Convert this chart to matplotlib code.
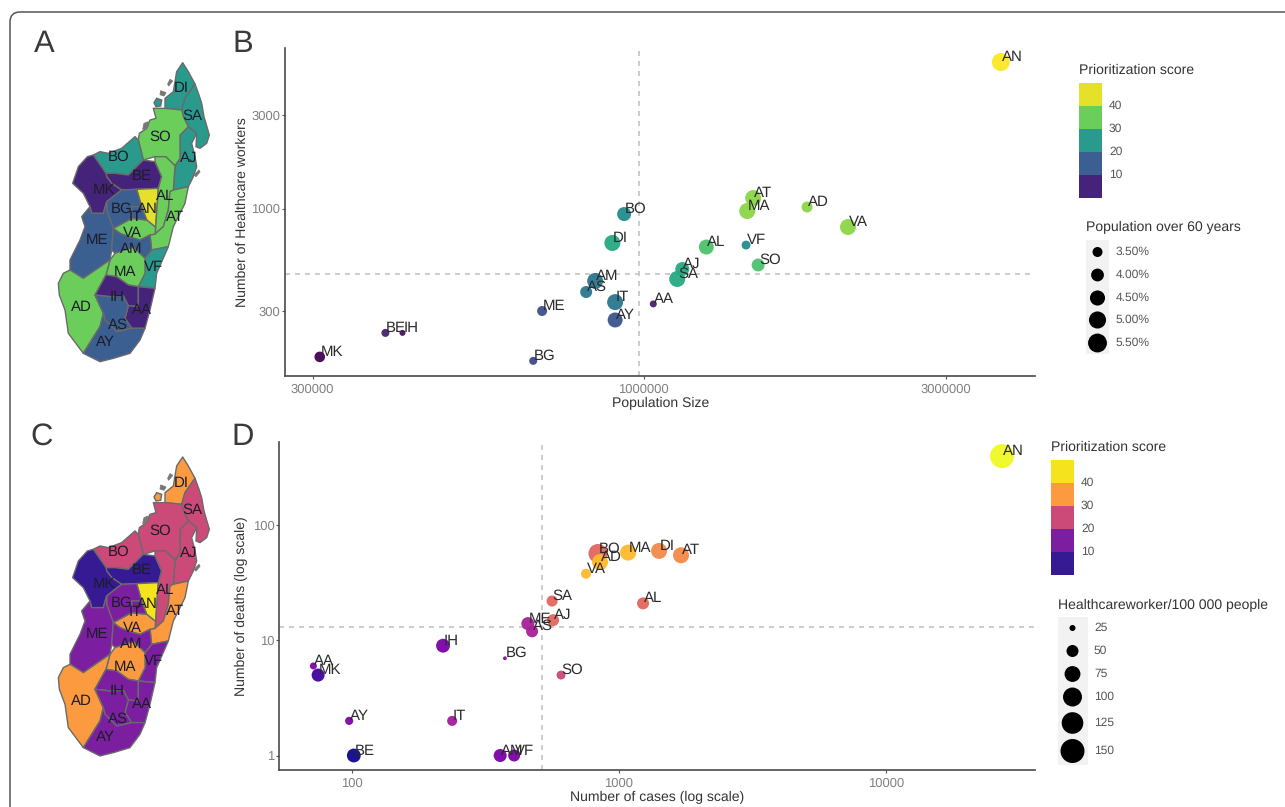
import matplotlib
matplotlib.use("Agg")
import matplotlib.pyplot as plt
import numpy as np
from matplotlib.patches import Polygon, Rectangle, FancyBboxPatch
from matplotlib.ticker import FixedLocator, FixedFormatter, NullLocator

plt.rcParams['font.family'] = ['Liberation Sans', 'DejaVu Sans']
plt.rcParams['text.hinting'] = 'no_hinting'
plt.rcParams['text.hinting_factor'] = 1

W, H = 1285, 807

# ---- panel B data
codes_b = ['AN','AT','MA','AD','VA','BO','DI','AL','VF','SO','AJ','SA','AM','AS','IT','AA','ME','AY','BG','BE','IH','MK']
pop_size = [3660000,1488000,1456000,1810000,2100000,931000,892000,1255000,1450000,1515000,1150000,1129000,838000,811000,901000,1035000,691000,901000,669000,391000,416000,308000]
hcw_count = [5589,1131,971,1018,805,937,667,636,651,515,491,437,427,375,333,326,300,270,167,232,232,175]
over60_pct = [5.25,4.72,4.72,3.66,4.72,4.25,4.72,4.47,3.34,4.03,4.25,4.72,4.72,3.84,4.72,3.1,3.5,4.47,3.22,3.22,3.0,3.6]
score_b = [48,40,40,40,40,24,30,35,24,35,30,30,20,20,20,6,13,14,12,6,4,2]
median_pop = 982000
median_hcw = 463

# ---- panel D data
codes_d = ['AN','BO','AD','VA','MA','DI','AT','SA','AL','AJ','ME','AS','IH','BG','AA','MK','SO','AY','IT','BE','AM','VF']
cases = [27170,836,851,754,1084,1415,1710,563,1233,568,457,474,220,375,72,75,608,98,238,102,360,406]
deaths = [400,57,48,38,58,60,55,22,21,15,14,12,9,7,6,5,5,2,2,1,1,1]
hcw_rate = [150,100,76,40,76,76,76,45,50,50,56,50,61,20,28,56,35,32,40,61,56,50]
score_d = [48,30,41,41,41,35,35,30,30,30,19,19,13,15,14,7,25,14,18,2,13,13]
median_cases = 516
median_deaths = 13

# ---- legends
bin_labels = ['40','30','20','10']
viridis_bins = ['#e5e029','#6cce5a','#2a9a8c','#3b5f90','#46237a']
plasma_bins = ['#f5e31e','#fb9a3e','#cc4a78','#7b1fa0','#361a93']
over60_breaks = [3.5,4.0,4.5,5.0,5.5]
over60_labels = ['3.50%','4.00%','4.50%','5.00%','5.50%']
rate_breaks = [25,50,75,100,125,150]

# ---- map data: region -> class (0 lowest .. 4 highest) and shape
class_a = dict(AN=4,SO=3,AL=3,AT=3,VA=3,MA=3,AD=3,DI=2,SA=2,AJ=2,BO=2,VF=2,BG=1,IT=1,ME=1,AM=1,AS=1,AY=1,MK=0,BE=0,IH=0,AA=0)
class_c = dict(AN=4,DI=3,VA=3,MA=3,AD=3,AT=3,SO=2,SA=2,AJ=2,BO=2,AL=2,BG=1,IT=1,ME=1,AM=1,VF=1,IH=1,AS=1,AA=1,AY=1,MK=0,BE=0)
shapes = {
 'DI':[(548,128),(565,155),(585,192),(555,235),(545,270),(495,265),(495,235),(520,215),(530,155)],
 'SA':[(585,192),(597,225),(605,250),(612,290),(628,345),(620,370),(600,385),(588,380),(590,340),(565,320),(550,290),(545,270),(555,235)],
 'AJ':[(565,320),(590,340),(575,370),(585,410),(590,440),(580,470),(565,500),(520,510),(525,440),(540,415),(540,345)],
 'SO':[(495,265),(545,270),(550,290),(565,320),(540,345),(540,415),(525,437),(497,410),(465,410),(430,420),(415,360),(418,340),(440,325),(450,300),(468,295),(460,265)],
 'BO':[(280,405),(300,395),(325,400),(365,385),(405,350),(415,360),(430,420),(415,435),(385,465),(345,460),(318,460)],
 'BE':[(318,460),(345,460),(385,465),(415,435),(430,420),(465,425),(485,470),(475,505),(410,508),(365,510),(335,490),(320,470)],
 'MK':[(262,410),(280,405),(318,460),(320,470),(335,490),(365,510),(320,545),(310,580),(275,580),(270,560),(250,520),(218,490),(235,440)],
 'AN':[(410,508),(475,505),(467,622),(440,600),(425,560)],
 'AL':[(465,410),(497,410),(525,437),(520,510),(510,515),(505,570),(490,620),(465,642),(467,622),(475,505),(485,470),(465,425)],
 'AT':[(520,510),(565,500),(555,550),(520,620),(505,680),(455,690),(450,645),(465,642),(490,620),(505,570),(510,515)],
 'VF':[(455,690),(505,680),(470,760),(465,805),(415,800),(435,760),(435,715)],
 'VA':[(340,625),(395,595),(440,600),(467,622),(465,642),(450,645),(420,660),(385,650),(360,640)],
 'BG':[(320,545),(365,510),(410,508),(425,560),(395,560),(395,595),(340,625),(320,570)],
 'IT':[(395,560),(425,560),(440,600),(395,595)],
 'ME':[(275,580),(310,580),(320,545),(320,570),(340,625),(335,690),(330,720),(250,775),(210,750),(210,720),(240,660),(255,620),(245,590),(270,560)],
 'AM':[(340,625),(360,640),(385,650),(420,660),(450,645),(455,690),(435,715),(400,682),(345,700),(335,690)],
 'MA':[(345,700),(400,682),(435,715),(435,760),(415,800),(385,795),(350,770),(318,765),(330,720)],
 'AD':[(175,790),(190,760),(210,750),(250,775),(330,720),(318,765),(285,825),(310,880),(300,920),(250,1000),(205,940),(195,870),(178,825)],
 'IH':[(318,765),(350,770),(385,795),(415,800),(415,860),(385,857),(370,828),(330,830),(285,825)],
 'AA':[(415,800),(465,805),(450,870),(435,925),(395,925),(375,895),(385,857),(415,860)],
 'AS':[(330,830),(370,828),(385,857),(375,895),(395,925),(350,935),(315,900),(310,880),(285,825)],
 'AY':[(300,920),(310,880),(315,900),(350,935),(395,925),(435,925),(420,960),(390,1000),(340,1015),(300,1025),(250,1000)],
}
di_lobe = [(470,235),(485,240),(482,258),(468,260),(462,248)]
islets = [[(510,178),(518,183),(506,198),(503,192)],[(482,212),(498,218),(492,228),(480,224)],
          [(432,310),(445,305),(440,325),(428,328)],[(582,465),(597,450),(600,456),(588,470)]]
map_labels = dict(DI=(543,205),SA=(578,288),SO=(480,350),AJ=(565,415),BO=(355,412),BE=(425,468),MK=(312,510),
                  AL=(495,528),AN=(442,568),BG=(365,567),IT=(405,592),AT=(525,590),VA=(398,640),ME=(292,660),
                  AM=(395,688),VF=(460,740),MA=(375,757),IH=(352,830),AA=(427,870),AD=(245,860),AS=(355,915),AY=(316,967))

fig = plt.figure(figsize=(W/100, H/100), dpi=100, facecolor='white')

def px_axes(l, t, r, b):
    return fig.add_axes([l/W, 1-b/H, (r-l)/W, (b-t)/H])

def r2_over60(p):
    return 25+(np.asarray(p, float)-3.5)*32

def r2_rate(v):
    return 9+(np.asarray(v, float)-25)*1.08

def s_from_r2(r2):
    return 4*np.asarray(r2)*0.72**2

def draw_map(ax, classes, palette):
    ax.set_xlim(0,720); ax.set_ylim(1080,0); ax.axis('off')
    for name, pts in shapes.items():
        ax.add_patch(Polygon(pts, closed=True, fc=palette[4-classes[name]], ec='#6a6a6a', lw=1.0, joinstyle='round'))
    ax.add_patch(Polygon(di_lobe, closed=True, fc=palette[4-classes['DI']], ec='#6a6a6a', lw=1.0))
    for pts in islets:
        ax.add_patch(Polygon(pts, closed=True, fc='#777777', ec='#777777', lw=0.6))
    for name,(x,y) in map_labels.items():
        ax.text(x, y, name, ha='center', va='center', fontsize=10.8, color='#1c1c2a')

def style_scatter(ax, xl, yl, xticks, yticks, xlab, ylab, xlab_pos, ylab_pos):
    ax.set_xscale('log'); ax.set_yscale('log')
    ax.set_xlim(*xl); ax.set_ylim(*yl)
    ax.xaxis.set_major_locator(FixedLocator(xticks))
    ax.xaxis.set_major_formatter(FixedFormatter([str(t) for t in xticks]))
    ax.yaxis.set_major_locator(FixedLocator(yticks))
    ax.yaxis.set_major_formatter(FixedFormatter([str(t) for t in yticks]))
    ax.xaxis.set_minor_locator(NullLocator()); ax.yaxis.set_minor_locator(NullLocator())
    for s in ['top','right']:
        ax.spines[s].set_visible(False)
    for s in ['left','bottom']:
        ax.spines[s].set_color('#4a4a4a'); ax.spines[s].set_linewidth(1.2)
    ax.tick_params(axis='both', length=2.2, width=0.8, color='#555555', labelsize=9.4, labelcolor='#808080')
    ax.tick_params(axis='y', pad=1)
    ax.tick_params(axis='x', pad=3)
    ax.set_xlabel(xlab, fontsize=10.4, color='#333333')
    ax.set_ylabel(ylab, fontsize=10.4, color='#333333')
    ax.xaxis.set_label_coords(*xlab_pos)
    ax.yaxis.set_label_coords(*ylab_pos)

def draw_points(ax, xs, ys, sizes, scores, cmap, names, vx, hy):
    ax.axvline(vx, color='#c4c4c4', lw=1.2, dashes=(3,3), zorder=1)
    ax.axhline(hy, color='#c4c4c4', lw=1.2, dashes=(3,3), zorder=1)
    ax.scatter(xs, ys, s=sizes, c=scores, cmap=cmap, vmin=2, vmax=48, alpha=0.95, linewidths=0, zorder=2, clip_on=False)
    for n,x,y in zip(names, xs, ys):
        ax.annotate(n, (x,y), xytext=(0.5,3.5), textcoords='offset points', ha='left', va='center',
                    fontsize=10.8, color='#2a2a2a', zorder=3)

# maps
draw_map(px_axes(0,20,240,380), class_a, viridis_bins)
draw_map(px_axes(0,414.3,240,774.3), class_c, plasma_bins)

# panel B
axb = px_axes(284.5,48,1035,376)
style_scatter(axb, (10**5.4329,10**6.6174), (10**2.1455,10**3.819), [300000,1000000,3000000], [300,1000,3000],
              'Population Size', 'Number of Healthcare workers', (0.5007,-0.0638), (-0.0479,0.5))
draw_points(axb, pop_size, hcw_count, s_from_r2(r2_over60(over60_pct)), score_b, 'viridis', codes_b, median_pop, median_hcw)

# panel D
axd = px_axes(279,441.5,1035,770)
style_scatter(axd, (10**1.7287,10**4.5575), (10**-0.126,10**2.729), [100,1000,10000], [1,10,100],
              'Number of cases (log scale)', 'Number of deaths (log scale)', (0.5,-0.0638), (-0.041,0.5))
draw_points(axd, cases, deaths, s_from_r2(r2_rate(hcw_rate)), score_d, 'plasma', codes_d, median_cases, median_deaths)

# overlay in pixel coordinates for legends, letters and frame
ov = fig.add_axes([0,0,1,1], facecolor='none', zorder=10)
ov.set_xlim(0,W); ov.set_ylim(H,0); ov.axis('off')
ov.add_patch(FancyBboxPatch((10,12), W+60, H+60, boxstyle='round,pad=0,rounding_size=10',
                            fc='none', ec='#555555', lw=1.1, clip_on=True))
for letter,(x,y) in {'A':(44,52),'B':(243,52),'C':(42,445),'D':(243,445)}.items():
    ov.text(x, y, letter, ha='center', va='baseline', fontsize=22, color='#3a3a3a')

def color_legend(left, top, title, title_y, colors):
    ov.text(left, title_y, title, fontsize=10.4, color='#333333', va='center', ha='left')
    h = 22.9
    for i,c in enumerate(colors):
        ov.add_patch(Rectangle((left, top+i*h), 23, h, fc=c, ec='none'))
    for i,l in enumerate(bin_labels):
        ov.text(left+30, top+(i+1)*h, l, fontsize=8.7, color='#555555', va='center', ha='left')

color_legend(1079, 83, 'Prioritization score', 70, viridis_bins)
color_legend(1051, 460, 'Prioritization score', 447, plasma_bins)

# size legends
ov.text(1086, 227, 'Population over 60 years', fontsize=10.4, color='#333333', va='center', ha='left')
ov.add_patch(Rectangle((1086,240), 23, 114, fc='#f2f2f2', ec='none'))
rows_b = np.array([252,275,298,320,343])
ov.scatter([1097.5]*5, rows_b, s=s_from_r2(r2_over60(over60_breaks)), c='black', linewidths=0)
for y,l in zip(rows_b, over60_labels):
    ov.text(1116, y, l, fontsize=8.7, color='#555555', va='center', ha='left')

ov.text(1058, 605, 'Healthcareworker/100 000 people', fontsize=10.4, color='#333333', va='center', ha='left')
ov.add_patch(Rectangle((1058,617), 30, 148, fc='#f2f2f2', ec='none'))
rows_d = np.array([628,651,674,697,723,751])
ov.scatter([1072.5]*6, rows_d, s=s_from_r2(r2_rate(rate_breaks)), c='black', linewidths=0)
for y,l in zip(rows_d, rate_breaks):
    ov.text(1094, y, str(l), fontsize=8.7, color='#555555', va='center', ha='left')

fig.savefig('out.png', dpi=100)
